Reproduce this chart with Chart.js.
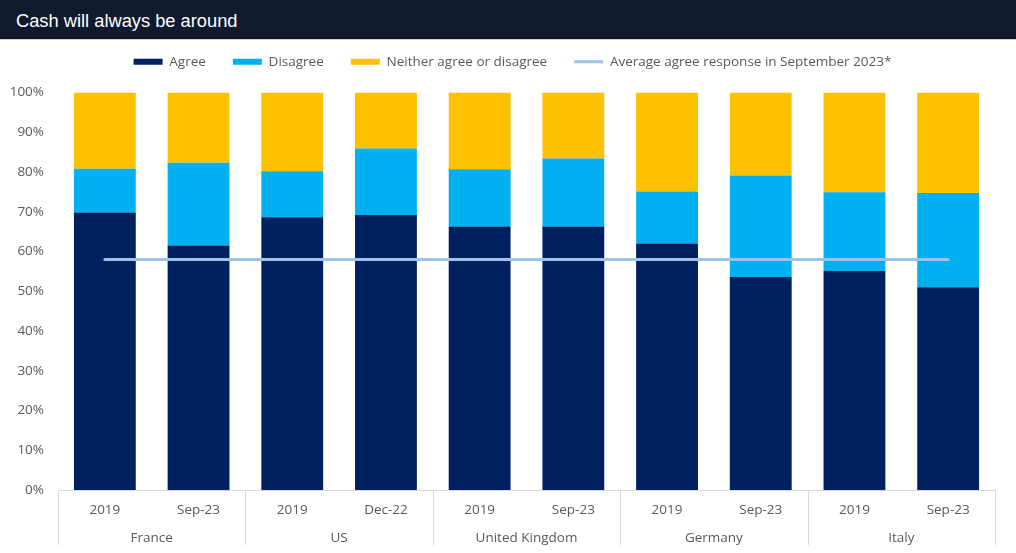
<!DOCTYPE html>
<html>
<head>
<meta charset="utf-8">
<script src="https://cdn.jsdelivr.net/npm/chart.js@4.4.0/dist/chart.umd.min.js"></script>
<style>
  body { margin: 0; background: #ffffff; }
  #banner {
    height: 40px; background: #111a2c; color: #ffffff;
    font-family: "Liberation Sans", Arial, sans-serif; font-size: 18.3px;
    line-height: 41px; padding-left: 16px; box-sizing: border-box;
    border-bottom: 1px solid #cfd3d8;
  }
  #wrap { width: 1016px; height: 513px; position: relative; }
</style>
</head>
<body>
<div id="banner">Cash will always be around</div>
<div id="wrap"><canvas id="cash_chart"></canvas></div>
<script>
// periods (first level) and countries (second level)
var periods = ["2019", "Sep-23", "2019", "Dec-22", "2019", "Sep-23", "2019", "Sep-23", "2019", "Sep-23"];
var countries = ["France", "US", "United Kingdom", "Germany", "Italy"];

// values in %
var agree = [69.8, 61.5, 68.6, 69.2, 66.3, 66.3, 62.0, 53.6, 55.1, 51.0];
var disagree = [11.0, 20.8, 11.6, 16.7, 14.4, 17.1, 13.1, 25.5, 19.8, 23.7];
var neither = [19.2, 17.7, 19.8, 14.1, 19.3, 16.6, 24.9, 20.9, 25.1, 25.3];
var avgAgreeSep23 = [58, 58, 58, 58, 58, 58, 58, 58, 58, 58];

var yTicks = [0, 10, 20, 30, 40, 50, 60, 70, 80, 90, 100];

var font_name = "'Open Sans', 'Noto Sans', sans-serif";
var grey_text = "#595959";

// vertical lines between country groups, below the axis
var groupLines = {
    id : "groupLines",
    afterDraw : function(chart){
        var xs = chart.scales.x;
        var x2 = chart.scales.x2;
        var ctx = chart.ctx;
        ctx.save();
        ctx.strokeStyle = "#d9d9d9";
        ctx.lineWidth = 1;
        for (var k = 0; k <= periods.length; k += 2)
        {
            var px;
            if (k === 0) px = xs.left;
            else if (k === periods.length) px = xs.right;
            else px = (xs.getPixelForValue(k - 1) + xs.getPixelForValue(k)) / 2;
            px = Math.round(px) + 0.5;
            ctx.beginPath();
            ctx.moveTo(px, xs.top);
            ctx.lineTo(px, x2.bottom - 8);
            ctx.stroke();
        }
        ctx.restore();
    }
};

// keep a gap under the legend, and nudge it to the right
var legendGap = {
    id : "legendGap",
    afterInit : function(chart){
        var lg = chart.legend;
        if (!lg) return;
        var fit = lg.fit;
        lg.fit = function(){
            fit.call(this);
            this.height += 14;
        };
    },
    afterLayout : function(chart){
        var lg = chart.legend;
        if (!lg) return;
        lg.left += 15;
        lg.right += 15;
    }
};

var ctx = document.getElementById("cash_chart");

var graph_data = {
    labels : periods,
    datasets : [
        {
            label : "Agree",
            data : agree,
            backgroundColor : "#002060",
            pointStyle : "rect",
            stack : "s",
            order : 1,
            barPercentage : 0.66,
            categoryPercentage : 1
        },
        {
            label : "Disagree",
            data : disagree,
            backgroundColor : "#00b0f0",
            pointStyle : "rect",
            stack : "s",
            order : 1,
            barPercentage : 0.66,
            categoryPercentage : 1
        },
        {
            label : "Neither agree or disagree",
            data : neither,
            backgroundColor : "#ffc000",
            pointStyle : "rect",
            stack : "s",
            order : 1,
            barPercentage : 0.66,
            categoryPercentage : 1
        },
        {
            type : "line",
            label : "Average agree response in September 2023*",
            data : avgAgreeSep23,
            borderColor : "#9dc3e6",
            backgroundColor : "#9dc3e6",
            borderWidth : 3,
            borderCapStyle : "round",
            pointRadius : 0,
            pointStyle : "line",
            fill : false,
            order : 0
        }
    ]
};

var options = {
    responsive : true,
    maintainAspectRatio : false,
    animation : false,
    layout : {
        padding : { top : -12, right : 21, bottom : 0, left : 0 }
    },
    plugins : {
        legend : {
            display : true,
            position : "top",
            labels : {
                usePointStyle : true,
                pointStyleWidth : 29,
                boxHeight : 6,
                padding : 27,
                color : grey_text,
                font : { family : font_name, size : 13.5 },
                sort : function(a, b){ return a.datasetIndex - b.datasetIndex; }
            }
        },
        tooltip : { enabled : false }
    },
    scales : {
        x : {
            stacked : true,
            grid : { display : false, drawTicks : false },
            border : { display : true, color : "#d9d9d9" },
            ticks : {
                color : grey_text,
                padding : 12,
                maxRotation : 0,
                font : { family : font_name, size : 13.5 }
            },
            afterFit : function(s){ s.height = 30; }
        },
        x2 : {
            type : "category",
            position : "bottom",
            labels : countries,
            offset : true,
            grid : { display : false, drawTicks : false },
            border : { display : false },
            ticks : {
                color : grey_text,
                padding : 10,
                maxRotation : 0,
                font : { family : font_name, size : 13.5 }
            },
            afterFit : function(s){ s.height = 33; }
        },
        y : {
            stacked : true,
            min : 0,
            max : 100,
            grid : { display : false, drawTicks : false },
            border : { display : false },
            afterBuildTicks : function(s){
                s.ticks = yTicks.map(function(v){ return { value : v }; });
            },
            ticks : {
                color : grey_text,
                padding : 14,
                font : { family : font_name, size : 13.5 },
                callback : function(v){ return v + "%"; }
            },
            afterFit : function(s){ s.width = 58; }
        }
    }
};

var chart = new Chart(ctx, {
    type : "bar",
    data : graph_data,
    options : options,
    plugins : [groupLines, legendGap]
});
</script>
</body>
</html>
